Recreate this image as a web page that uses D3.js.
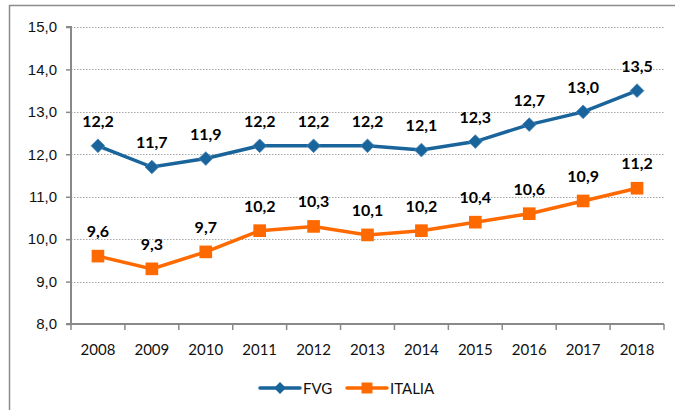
<!DOCTYPE html>
<html>
<head>
<meta charset="utf-8">
<script src="https://cdn.jsdelivr.net/npm/d3@7"></script>
<style>
  body { margin: 0; background: #fff; }
  svg { display: block; font-family: Lato, "Open Sans", sans-serif; }
</style>
</head>
<body>
<div id="chart"></div>
<script>
const years = [2008, 2009, 2010, 2011, 2012, 2013, 2014, 2015, 2016, 2017, 2018];
const fvg = [12.2, 11.7, 11.9, 12.2, 12.2, 12.2, 12.1, 12.3, 12.7, 13.0, 13.5];
const italia = [9.6, 9.3, 9.7, 10.2, 10.3, 10.1, 10.2, 10.4, 10.6, 10.9, 11.2];
const yTicks = [8, 9, 10, 11, 12, 13, 14, 15];

const width = 675, height = 410,
  margin = ({ top: 27, right: 11, bottom: 86, left: 71 });

const blue = "#1a649c", orange = "#ff6a00", axisGrey = "#898989";

const locale = d3.formatLocale({ decimal: ",", thousands: ".", grouping: [3], currency: ["", "€"] });
const fmt = locale.format(".1f");

const x = d3.scaleBand()
  .domain(years)
  .range([margin.left, width - margin.right]);

const y = d3.scaleLinear()
  .domain([8, 15])
  .range([height - margin.bottom, margin.top]);

const svg = d3.select("#chart")
  .append("svg")
  .attr("width", width)
  .attr("height", height);

// outer frame (only left and top visible)
svg.append("path")
  .attr("d", `M9.5,${height}V5.5H${width}`)
  .attr("fill", "none")
  .attr("stroke", "#8c8c8c")
  .attr("stroke-width", 1.5);

// gridlines
svg.append("g")
  .selectAll("line")
  .data(yTicks.filter(d => d > 8))
  .join("line")
  .attr("x1", margin.left)
  .attr("x2", width - margin.right)
  .attr("y1", d => Math.round(y(d)) + 0.5)
  .attr("y2", d => Math.round(y(d)) + 0.5)
  .attr("stroke", "#a6a6a6")
  .attr("stroke-dasharray", "1.5,1.5");

// y axis
const yAxis = svg.append("g")
  .attr("transform", `translate(${margin.left},0)`)
  .call(d3.axisLeft(y).tickValues(yTicks).tickFormat(fmt).tickSize(5).tickPadding(9));
yAxis.select(".domain").attr("stroke", axisGrey).attr("stroke-width", 2).attr("d", `M-5,${y(15)}H0V${y(8)}`);
yAxis.selectAll(".tick line").attr("stroke", axisGrey).attr("stroke-width", 1.5);
yAxis.selectAll("text").attr("font-size", 15).attr("fill", "#111");

// x axis, ticks on category boundaries
const xAxis = svg.append("g")
  .attr("transform", `translate(0,${y(8)})`);
xAxis.append("line")
  .attr("x1", margin.left - 5)
  .attr("x2", width - margin.right)
  .attr("stroke", axisGrey)
  .attr("stroke-width", 2);
xAxis.selectAll(".bnd")
  .data(years.concat(["end"]))
  .join("line")
  .attr("class", "bnd")
  .attr("x1", (d, i) => margin.left + i * x.step())
  .attr("x2", (d, i) => margin.left + i * x.step())
  .attr("y1", 0)
  .attr("y2", 6)
  .attr("stroke", axisGrey)
  .attr("stroke-width", 1.5);
xAxis.selectAll("text")
  .data(years)
  .join("text")
  .attr("x", d => x(d) + x.bandwidth() / 2)
  .attr("y", 31)
  .attr("text-anchor", "middle")
  .attr("font-size", 15)
  .attr("fill", "#111")
  .text(d => d);

const cx = d => x(d) + x.bandwidth() / 2;

const line = d3.line()
  .x((d, i) => cx(years[i]))
  .y(d => y(d));

function drawSeries(values, color, shape) {
  const g = svg.append("g");
  g.append("path")
    .datum(values)
    .attr("d", line)
    .attr("fill", "none")
    .attr("stroke", color)
    .attr("stroke-width", 3.5);
  g.selectAll(".m")
    .data(values)
    .join("path")
    .attr("class", "m")
    .attr("transform", (d, i) => `translate(${cx(years[i])},${y(d)})`)
    .attr("d", d3.symbol().type(shape).size(shape === d3.symbolSquare ? 160 : 120))
    .attr("fill", color)
    .attr("stroke", shape === d3.symbolSquare ? "none" : "#4a86b8")
    .attr("stroke-width", 0.8);
  g.selectAll(".lbl")
    .data(values)
    .join("text")
    .attr("class", "lbl")
    .attr("x", (d, i) => cx(years[i]))
    .attr("y", d => y(d) - 19)
    .attr("text-anchor", "middle")
    .attr("font-size", 16)
    .attr("font-weight", "bold")
    .attr("fill", "#000")
    .text(d => fmt(d));
}

drawSeries(fvg, blue, d3.symbolDiamond2);
drawSeries(italia, orange, d3.symbolSquare);

// legend
const legend = svg.append("g").attr("transform", `translate(0,388)`);
const items = [
  { name: "FVG", color: blue, shape: d3.symbolDiamond2, x: 260 },
  { name: "ITALIA", color: orange, shape: d3.symbolSquare, x: 347 }
];
items.forEach(it => {
  legend.append("line")
    .attr("x1", it.x).attr("x2", it.x + 40)
    .attr("stroke", it.color).attr("stroke-width", 3.5)
    .attr("stroke-linecap", "round");
  legend.append("path")
    .attr("transform", `translate(${it.x + 20},0)`)
    .attr("d", d3.symbol().type(it.shape).size(it.shape === d3.symbolSquare ? 120 : 90))
    .attr("fill", it.color);
  legend.append("text")
    .attr("x", it.x + 43)
    .attr("y", 5.5)
    .attr("font-size", 15)
    .attr("fill", "#111")
    .text(it.name);
});
</script>
</body>
</html>
